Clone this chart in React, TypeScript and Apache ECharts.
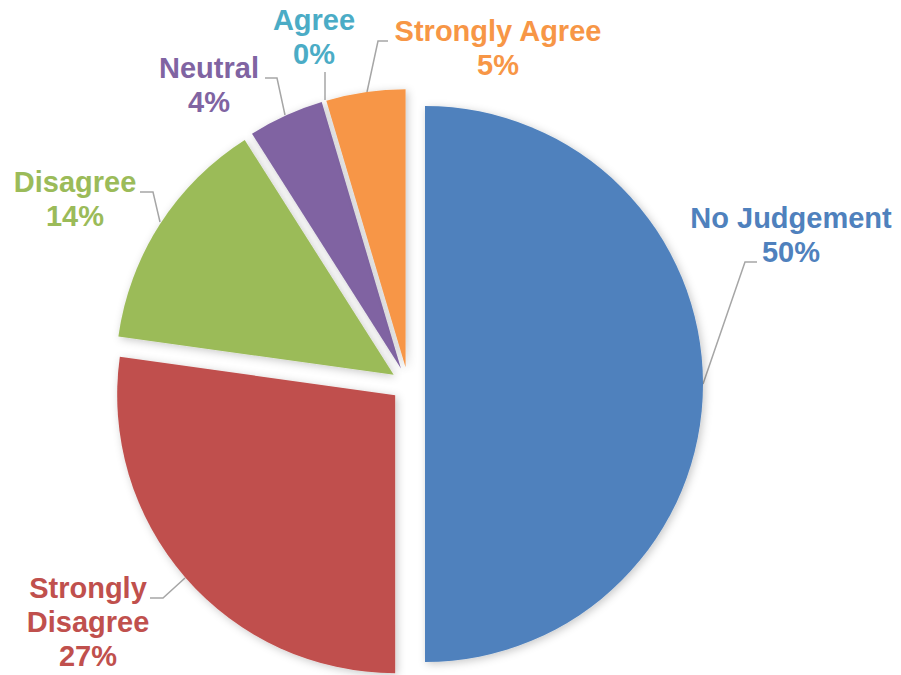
import React, { useEffect, useRef } from "react";
import * as echarts from "echarts";

const categories = ["No Judgement", "Strongly Disagree", "Disagree", "Neutral", "Agree", "Strongly Agree"];
const labelLines = ["No Judgement", "Strongly\nDisagree", "Disagree", "Neutral", "Agree", "Strongly Agree"];
// shares (labels show them rounded)
const values = [50, 27.2, 13.8, 4.4, 0, 4.6];
const colors = ["#4F81BD", "#C0504D", "#9BBB59", "#8064A2", "#4BACC6", "#F79646"];

// layout: pie centre, radius, explosion distance
const CX = 408;
const CY = 384;
const R = 278;
const EXPLODE = 17;

// label block centres and leader-line paths (layout, not data)
const labelCenters = [
  [791, 235],
  [88, 622],
  [75, 199],
  [209, 85],
  [314, 37],
  [498, 48],
];
const leaderPaths = [
  [[703, 384], [745, 262], [757, 262]],
  [[185, 578], [163, 598], [150, 598]],
  [[160, 222], [153, 192], [140, 192]],
  [[285, 115], [277, 78], [265, 78]],
  [[325, 100], [325, 86], [325, 72]],
  [[367, 92], [378, 41], [388, 41]],
];

export default function App() {
  const ref = useRef<HTMLDivElement>(null);
  useEffect(() => {
    if (!ref.current) return;
    const chart = echarts.init(ref.current, null, { renderer: "svg" });
    const total = values.reduce((a, b) => a + b, 0);
    let cum = 0;
    const series = categories.map((_, owner) => {
      const mid = ((cum + values[owner] / 2) / total) * Math.PI * 2;
      cum += values[owner];
      const center = [CX + EXPLODE * Math.sin(mid), CY - EXPLODE * Math.cos(mid)];
      return {
        type: "pie",
        center,
        radius: R,
        startAngle: 90,
        clockwise: true,
        percentPrecision: 0,
        avoidLabelOverlap: false,
        silent: true,
        emphasis: { disabled: true },
        label: {
          show: false,
          position: "outside",
          fontFamily: "'Liberation Sans', Arial, sans-serif",
          fontWeight: "bold",
          fontSize: 29,
          lineHeight: 34,
          width: 320,
          overflow: "none",
          formatter: (p: any) => `${labelLines[p.dataIndex]}\n${p.percent}%`,
        },
        labelLine: {
          show: false,
          lineStyle: { color: "#A6A6A6", width: 1.5 },
        },
        labelLayout: (p: any) => {
          const i = p.dataIndex;
          if (i !== owner) return {};
          return {
            x: labelCenters[i][0],
            y: labelCenters[i][1],
            align: "center",
            verticalAlign: "middle",
            labelLinePoints: leaderPaths[i],
          };
        },
        data: categories.map((name, i) => {
          const mine = i === owner;
          return {
            name,
            value: values[i],
            itemStyle: mine
              ? {
                  color: colors[i],
                  borderWidth: 0,
                  shadowBlur: 8,
                  shadowOffsetX: 2,
                  shadowOffsetY: 2,
                  shadowColor: "rgba(0,0,0,0.22)",
                }
              : { color: "rgba(0,0,0,0)", borderWidth: 0, shadowBlur: 0 },
            label: { show: mine, color: colors[i] },
            labelLine: { show: mine },
          };
        }),
      };
    });
    chart.setOption({
      animation: false,
      backgroundColor: "#ffffff",
      series,
    });
    return () => chart.dispose();
  }, []);
  return (
    <div
      ref={ref}
      style={{ position: "absolute", left: 0, top: 0, width: 901, height: 675 }}
    />
  );
}
